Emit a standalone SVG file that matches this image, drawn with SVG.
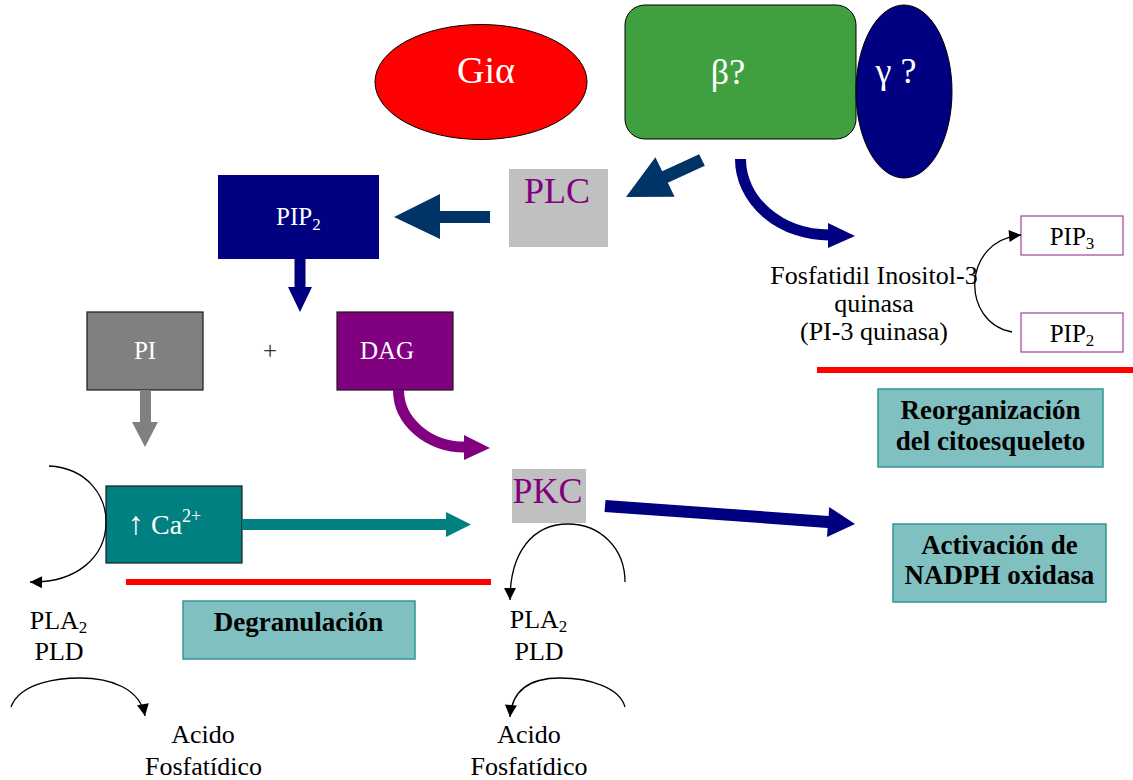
<svg xmlns="http://www.w3.org/2000/svg" width="1133" height="780" viewBox="0 0 1133 780" font-family="'Liberation Serif', 'Times New Roman', serif">
<style>
  text { font-family: "Liberation Serif", "Times New Roman", serif; }
  .w { fill: #ffffff; }
  .k { fill: #000000; }
  .p { fill: #800080; }
  .big { font-size: 36px; }
  .med { font-size: 25px; }
  .lbl { font-size: 26px; }
  .bold { font-size: 27px; font-weight: bold; fill: #000000; }
  .res { fill: #80c0c0; stroke: #2e9898; stroke-width: 1.5; }
  .thin { fill: none; stroke: #000000; stroke-width: 1.3; marker-end: url(#ah); }
  .box { stroke: #1a1a1a; stroke-width: 1.2; }
</style>
<defs>
  <marker id="ah" viewBox="0 0 10 10" refX="10" refY="5" markerWidth="13" markerHeight="12" markerUnits="userSpaceOnUse" orient="auto">
    <path d="M0,0 L10,5 L0,10 z" fill="#000000"/>
  </marker>
</defs>
<rect width="1133" height="780" fill="#ffffff"/>

<g id="gi-alpha">
  <ellipse cx="481" cy="82" rx="106" ry="57.5" fill="#ff0000" stroke="#000000" stroke-width="1"/>
  <text x="486" y="83" class="w" font-size="38" text-anchor="middle">Giα</text>
</g>
<g id="beta">
  <rect x="625" y="5" width="231" height="134" rx="20" fill="#40a040" stroke="#000000" stroke-width="1"/>
  <text x="728" y="84" class="w big" text-anchor="middle">β?</text>
</g>
<g id="gamma">
  <ellipse cx="904" cy="91.5" rx="48" ry="86.5" fill="#000080" stroke="#000000" stroke-width="1"/>
  <text x="896" y="83" class="w big" text-anchor="middle">γ ?</text>
</g>
<g id="plc">
  <rect x="509" y="169" width="99" height="78" fill="#c0c0c0"/>
  <text x="557" y="203" class="p big" text-anchor="middle">PLC</text>
</g>
<g id="pip2">
  <rect x="218" y="175" width="161" height="84" fill="#000080"/>
  <text x="276" y="225" class="w med">PIP<tspan font-size="17" dy="5">2</tspan></text>
</g>
<g id="pi">
  <rect x="87" y="312" width="116" height="78" fill="#808080" class="box"/>
  <text x="145" y="359" class="w med" text-anchor="middle">PI</text>
</g>
<g id="plus">
  <text x="270" y="359" fill="#333333" class="med" text-anchor="middle">+</text>
</g>
<g id="dag">
  <rect x="337" y="312" width="116" height="78" fill="#800080" class="box"/>
  <text x="387" y="359" class="w med" text-anchor="middle">DAG</text>
</g>
<g id="calcium">
  <rect x="106" y="486" width="136" height="77" fill="#008080" class="box"/>
  <text x="128" y="534" class="w" font-size="28"><tspan font-size="32">↑</tspan> Ca<tspan font-size="18" dy="-12">2+</tspan></text>
</g>
<g id="pkc">
  <rect x="512" y="469" width="74" height="54" fill="#c0c0c0"/>
  <text x="547.5" y="503" class="p big" text-anchor="middle">PKC</text>
</g>
<g id="pla2-left">
  <text x="58.5" y="629" class="k lbl" text-anchor="middle">PLA<tspan font-size="17" dy="4">2</tspan></text>
  <text x="59" y="660" class="k lbl" text-anchor="middle">PLD</text>
</g>
<g id="pla2-mid">
  <text x="538.5" y="628" class="k lbl" text-anchor="middle">PLA<tspan font-size="17" dy="4">2</tspan></text>
  <text x="539" y="660" class="k lbl" text-anchor="middle">PLD</text>
</g>
<g id="acido-left">
  <text x="203" y="743" class="k lbl" text-anchor="middle">Acido</text>
  <text x="203.5" y="775" class="k lbl" text-anchor="middle">Fosfatídico</text>
</g>
<g id="acido-mid">
  <text x="529" y="743" class="k lbl" text-anchor="middle">Acido</text>
  <text x="529" y="775" class="k lbl" text-anchor="middle">Fosfatídico</text>
</g>
<g id="pi3k">
  <text x="874" y="284" class="k lbl" text-anchor="middle">Fosfatidil Inositol-3</text>
  <text x="874" y="312" class="k lbl" text-anchor="middle">quinasa</text>
  <text x="874" y="340" class="k lbl" text-anchor="middle">(PI-3 quinasa)</text>
</g>
<g id="pip3-box">
  <rect x="1021" y="216" width="102" height="39" fill="#ffffff" stroke="#a040a0" stroke-width="1.2"/>
  <text x="1072" y="245" class="k med" text-anchor="middle">PIP<tspan font-size="17" dy="4">3</tspan></text>
</g>
<g id="pip2-box">
  <rect x="1021" y="313" width="102" height="39" fill="#ffffff" stroke="#a040a0" stroke-width="1.2"/>
  <text x="1072" y="342" class="k med" text-anchor="middle">PIP<tspan font-size="17" dy="4">2</tspan></text>
</g>
<g id="degranulacion">
  <rect x="183" y="601" width="232" height="58" class="res"/>
  <text x="298.5" y="631" class="bold" text-anchor="middle">Degranulación</text>
</g>
<g id="reorganizacion">
  <rect x="878" y="389" width="225" height="78" class="res"/>
  <text x="990.5" y="419" class="bold" text-anchor="middle">Reorganización</text>
  <text x="990.5" y="450" class="bold" text-anchor="middle">del citoesqueleto</text>
</g>
<g id="nadph">
  <rect x="893" y="524" width="213" height="78" class="res"/>
  <text x="999.5" y="554" class="bold" text-anchor="middle">Activación de</text>
  <text x="999.5" y="584" class="bold" text-anchor="middle">NADPH oxidasa</text>
</g>
<g id="separators">
  <rect x="126" y="579" width="365" height="6" fill="#ff0000"/>
  <rect x="817" y="367" width="316" height="6" fill="#ff0000"/>
</g>

<g id="connectors">
  <polygon points="699.2,154.2 704.8,165.8 667.8,182.8 674.6,196.8 626,197 655.4,157.2 662.2,171.2" fill="#003366"/>
  <polygon points="490,211 440,211 440,194 394,217 440,239 440,223 490,223" fill="#003366"/>
  <polygon points="294.5,259 305.5,259 305.5,287 312,287 300,312 288,287 294.5,287" fill="#000080"/>
  <polygon points="140,390 151,390 151,422 158,422 145,447 132,422 140,422" fill="#808080"/>
  <path d="M740.5,159 A88.5,76 0 0 0 829,235" fill="none" stroke="#000080" stroke-width="11"/>
  <polygon points="828,223 855,236 828,248" fill="#000080"/>
  <path d="M398.5,390 A66.5,57 0 0 0 465,447" fill="none" stroke="#800080" stroke-width="11"/>
  <polygon points="464,435 490,448 464,460" fill="#800080"/>
  <polygon points="242,519 446,519 446,512 471,524.5 446,537 446,530 242,530" fill="#008080"/>
  <polygon points="605.5,500 828.6,516 829.2,507 855,524 827,537 827.6,527.9 604.5,512" fill="#000080"/>
  <path class="thin" d="M49,466 C88,468 107,497 106,524 C105,556 78,583 30,582"/>
  <path class="thin" d="M625,582 C625,548 600,524 568,524 C533,524 510,552 510,600"/>
  <path class="thin" d="M11,707 C20,682 60,678 80,678 C110,678 140,688 145,716"/>
  <path class="thin" d="M625,707 C620,688 590,678 560,678 C530,678 512,690 510,717"/>
  <path class="thin" d="M1012,332 C960,322 962,240 1021,235"/>
</g>
</svg>
